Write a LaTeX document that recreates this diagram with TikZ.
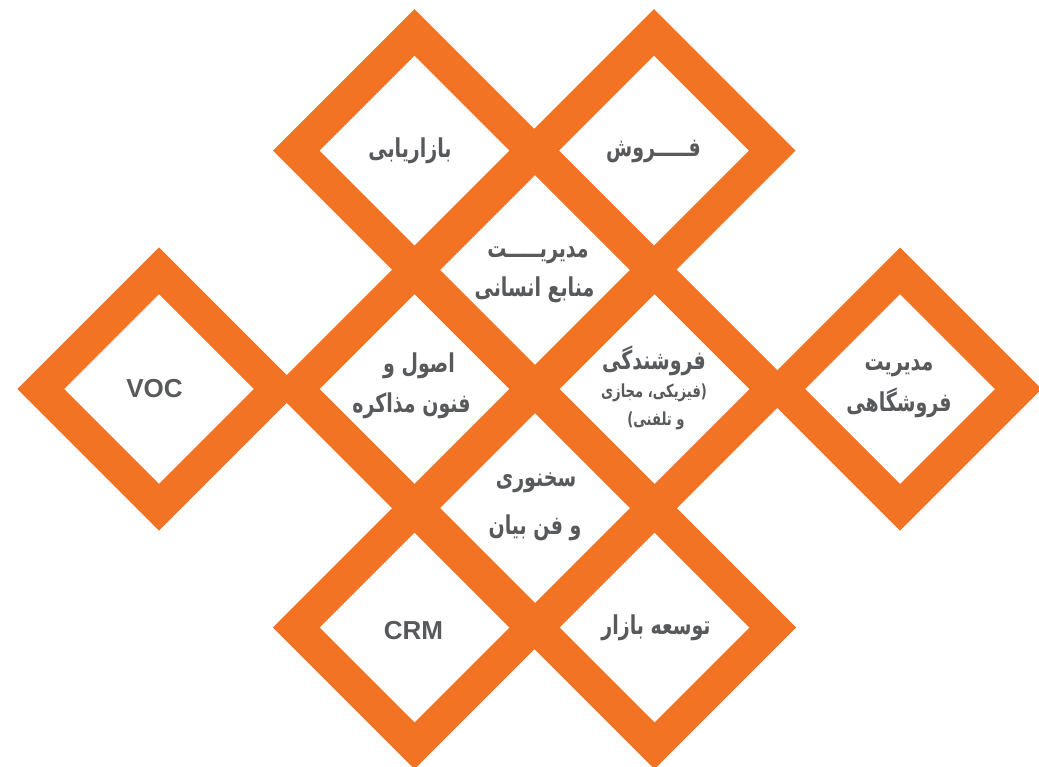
\documentclass[tikz,border=0pt]{standalone}
\usepackage{fontspec}
\setmainfont{Liberation Sans}
\newfontfamily\fa[Script=Arabic, FakeStretch=0.73]{DejaVu Sans}
\TeXXeTstate=1
\usetikzlibrary{shapes.geometric}
\definecolor{orng}{HTML}{F37325}
\definecolor{txtgray}{HTML}{58595B}
\tikzset{
  band/.style={shape=diamond, aspect=1, draw=orng, line width=32.9pt,
    minimum width=236.5pt, minimum height=236.5pt, inner sep=0pt, outer sep=0pt},
  fatxt/.style={anchor=base, text=txtgray, inner sep=0pt,
    font=\fa\bfseries\fontsize{26}{30}\selectfont},
  fasmall/.style={fatxt, font=\fa\bfseries\fontsize{18}{21}\selectfont},
  latxt/.style={anchor=base, text=txtgray, inner sep=0pt,
    font=\bfseries\fontsize{26}{30}\selectfont},
}
\begin{document}
\begin{tikzpicture}[x=1pt,y=-1pt]
\fill[white] (0,0) rectangle (1039,766);
\useasboundingbox (0,0) rectangle (1039,766);
% diamonds
\node[band] (d1) at (414.5,150.7) {};
\node[band] (d2) at (654,150.7) {};
\node[band] (d3) at (535,270) {};
\node[band] (d4) at (159,389) {};
\node[band] (d5) at (414.5,389) {};
\node[band] (d6) at (654.5,389) {};
\node[band] (d7) at (900,389) {};
\node[band] (d8) at (535,508) {};
\node[band] (d9) at (414.5,627.5) {};
\node[band] (d10) at (654.5,627.5) {};
% texts
\node[fatxt] (t1) at (410,157.5) {\beginR بازاریابی\endR};
\node[fatxt] (t2) at (653.5,156.5) {\beginR فـــــروش\endR};
\node[fatxt] (t3a) at (538,257) {\beginR مدیریـــــت\endR};
\node[fatxt] (t3b) at (534.5,296) {\beginR منابع انسانی\endR};
\node[latxt] (t4) at (154.5,397.7) {VOC};
\node[fatxt] (t5a) at (419,372.5) {\beginR اصول و\endR};
\node[fatxt] (t5b) at (411.5,412.5) {\beginR فنون مذاکره\endR};
\node[fatxt] (t6a) at (654,369) {\beginR فروشندگی\endR};
\node[fasmall] (t6b) at (654,397.5) {\beginR (فیزیکی، مجازی\endR};
\node[fasmall] (t6c) at (656,425.5) {\beginR و تلفنی)\endR};
\node[fatxt] (t7a) at (899,370) {\beginR مدیریت\endR};
\node[fatxt] (t7b) at (899,411) {\beginR فروشگاهی\endR};
\node[fatxt] (t8a) at (536,486) {\beginR سخنوری\endR};
\node[fatxt] (t8b) at (535,534) {\beginR و فن بیان\endR};
\node[latxt] (t9) at (413.5,639.3) {CRM};
\node[fatxt] (t10) at (656,634) {\beginR توسعه بازار\endR};
\end{tikzpicture}
\end{document}
